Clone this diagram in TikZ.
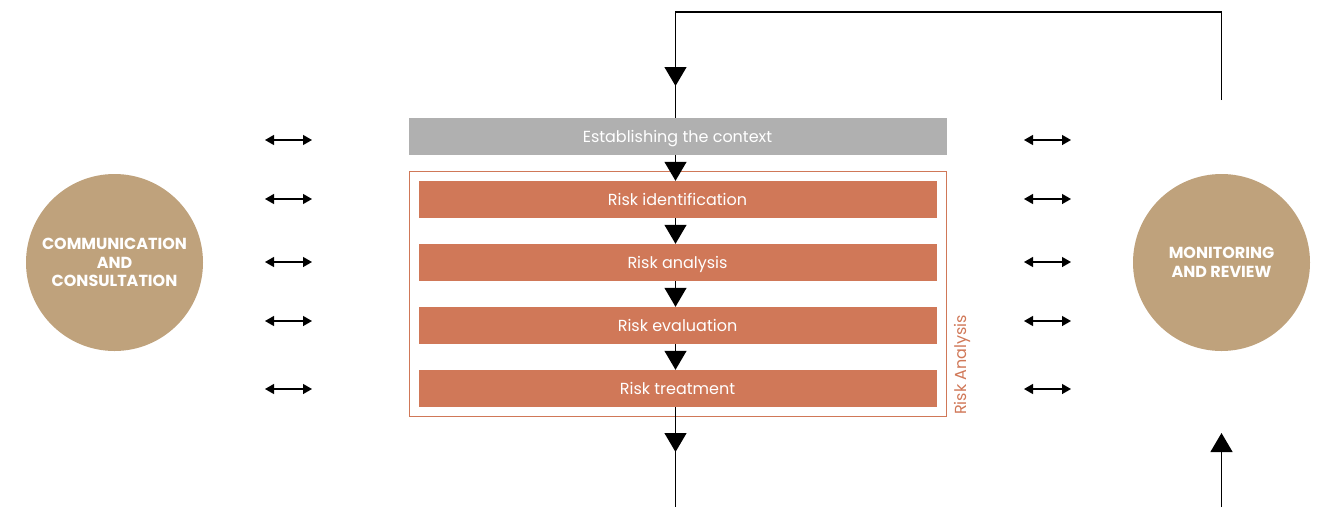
\documentclass[tikz,border=0pt]{standalone}
\usepackage{fontspec}
\setmainfont{Poppins}
\usetikzlibrary{arrows.meta}
\definecolor{rust}{RGB}{208,120,88}
\definecolor{sand}{RGB}{191,162,124}
\definecolor{ash}{RGB}{176,176,176}
\tikzset{
  stage/.style={fill=rust,text=white,minimum width=518pt,minimum height=37pt,text depth=1pt,font=\fontsize{16}{18}\selectfont},
  hub/.style={circle,fill=sand,text=white,minimum size=177pt,align=center,font=\fontsize{16}{18.5}\selectfont\bfseries},
  flow/.style={line width=1.3pt,-{Triangle[width=22pt,length=19pt]}},
  talk/.style={line width=1.3pt,{Triangle[width=10pt,length=9pt]}-{Triangle[width=10pt,length=9pt]}}
}
\begin{document}
\begin{tikzpicture}[x=1pt,y=-1pt]
\useasboundingbox (0,0) rectangle (1322,507);
\node[hub] (CC) at (114.5,262.5) {COMMUNICATION\\AND\\CONSULTATION};
\node[hub] (MR) at (1221.5,262.5) {MONITORING\\AND REVIEW};
\node[draw=rust,line width=0.8pt,minimum width=537pt,minimum height=245pt] (RA) at (677.5,293.5) {};
\node[rotate=90,text=rust,font=\fontsize{16}{18}\selectfont] (RAlab) at (962,365) {Risk Analysis};
\node[fill=ash,text=white,minimum width=538pt,minimum height=37pt,text depth=1pt,font=\fontsize{16}{18}\selectfont] (ctx) at (677.5,136.5) {Establishing the context};
\node[stage] (ident) at (677.5,199.5) {Risk identification};
\node[stage] (anal) at (677.5,262.5) {Risk analysis};
\node[stage] (eval) at (677.5,325.5) {Risk evaluation};
\node[stage] (treat) at (677.5,388.5) {Risk treatment};
% feedback loop
\coordinate (topL) at (675.5,12);
\coordinate (topR) at (1221.5,12);
\coordinate (backR) at (1221.5,100);
\coordinate (inTip) at (675.5,86);
\coordinate (outTip) at (675.5,452);
\coordinate (outEnd) at (675.5,507);
\coordinate (upTip) at (1221.5,433);
\coordinate (upEnd) at (1221.5,507);
\draw[line width=1.3pt] (backR) -- (topR) -- (topL) -- (topL |- ctx.north);
\draw[flow] (topL) -- (inTip);
\draw[flow] (topL |- ctx.south) -- (topL |- ident.north);
\draw[flow] (topL |- ident.south) -- (topL |- anal.north);
\draw[flow] (topL |- anal.south) -- (topL |- eval.north);
\draw[flow] (topL |- eval.south) -- (topL |- treat.north);
\draw[line width=1.3pt] (topL |- treat.south) -- (outEnd);
\draw[flow] (topL |- treat.south) -- (outTip);
\draw[flow] (upEnd) -- (upTip);
% two-way links
\foreach \y in {140,199,262,321,389}{
  \coordinate (la\y) at (265,\y); \coordinate (lb\y) at (312,\y);
  \coordinate (ra\y) at (1024,\y); \coordinate (rb\y) at (1071,\y);
  \draw[talk] (la\y) -- (lb\y);
  \draw[talk] (ra\y) -- (rb\y);
}
\end{tikzpicture}
\end{document}
